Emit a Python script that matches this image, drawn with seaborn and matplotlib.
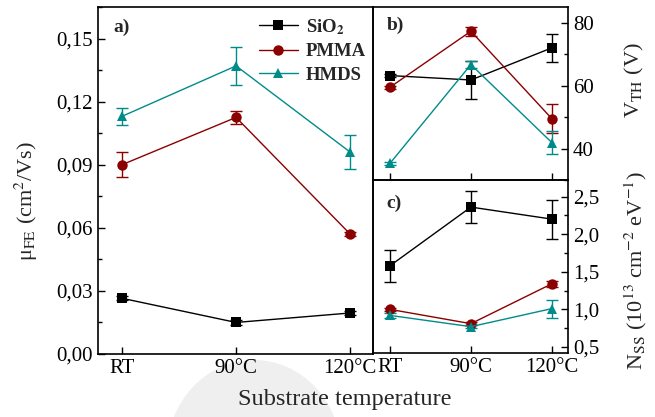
import numpy as np
import pandas as pd
import matplotlib
matplotlib.use('Agg')
import matplotlib.pyplot as plt
from matplotlib.lines import Line2D
from matplotlib.patches import Ellipse
from matplotlib.ticker import FuncFormatter, MultipleLocator, AutoMinorLocator
import seaborn as sns

# ── Data ───────────────────────────────────────────────────────────────────────
temps = ['RT', '90°C', '120°C']
series = ['SiO2', 'PMMA', 'HMDS']

mu_sio2 = [0.0265, 0.015, 0.0195]
mu_pmma = [0.090, 0.1125, 0.057]
mu_hmds = [0.113, 0.137, 0.096]
mu_err_sio2 = [0.001, 0.001, 0.001]
mu_err_pmma = [0.006, 0.003, 0.001]
mu_err_hmds = [0.004, 0.009, 0.008]

vth_sio2 = [63.2, 61.8, 72.0]
vth_pmma = [59.5, 77.3, 49.5]
vth_hmds = [35.3, 66.7, 41.9]
vth_err_sio2 = [0.5, 6.0, 4.5]
vth_err_pmma = [0.5, 1.5, 4.7]
vth_err_hmds = [0.5, 1.0, 3.6]

nss_sio2 = [1.58, 2.36, 2.20]
nss_pmma = [1.00, 0.81, 1.34]
nss_hmds = [0.92, 0.77, 1.01]
nss_err_sio2 = [0.21, 0.21, 0.26]
nss_err_pmma = [0.02, 0.02, 0.04]
nss_err_hmds = [0.03, 0.02, 0.12]

colors = {'SiO2': 'black', 'PMMA': '#8b0000', 'HMDS': '#008b8b'}
markers = {'SiO2': 's', 'PMMA': 'o', 'HMDS': '^'}

# ── Style ──────────────────────────────────────────────────────────────────────
sns.set_theme(style='ticks')
plt.rcParams['font.family'] = ['Liberation Serif', 'DejaVu Serif']
plt.rcParams['mathtext.fontset'] = 'stix'
plt.rcParams['xtick.direction'] = 'in'
plt.rcParams['ytick.direction'] = 'in'
plt.rcParams['axes.linewidth'] = 1.2
plt.rcParams['xtick.color'] = 'black'
plt.rcParams['ytick.color'] = 'black'
plt.rcParams['axes.edgecolor'] = 'black'


def long_frame(vals, errs):
    rows = []
    for name, v, e in zip(series, vals, errs):
        for i, (yy, ee) in enumerate(zip(v, e)):
            rows.append({'x': i, 'y': yy, 'err': ee, 'series': name})
    return pd.DataFrame(rows)


def draw(ax, df):
    sns.lineplot(data=df, x='x', y='y', hue='series', style='series',
                 palette=colors, markers=markers, dashes=False,
                 markersize=7.5, markeredgewidth=0, linewidth=1.0,
                 legend=False, ax=ax, zorder=3)
    for name in series:
        d = df[df['series'] == name]
        ax.errorbar(d['x'], d['y'], yerr=d['err'], fmt='none',
                    ecolor=colors[name], elinewidth=1.0, capsize=4,
                    capthick=1.0, zorder=2)
    ax.set_xlim(-0.21, 2.2)
    ax.set_xticks(range(len(temps)))
    ax.set_xlabel('')
    ax.set_facecolor('none')
    ax.tick_params(which='major', length=5, width=1, labelsize=15)
    ax.tick_params(which='minor', length=3, width=1)


def comma(fmt):
    return FuncFormatter(lambda v, p: (fmt % v).replace('.', ','))


fig = plt.figure(figsize=(6.55, 4.17), dpi=100)

# faint grey watermark shape behind the x label
bg = fig.add_axes([0, 0, 1, 1], zorder=-5)
bg.set_xlim(0, 655)
bg.set_ylim(417, 0)
bg.axis('off')
bg.add_patch(Ellipse((254, 455), 175, 190, color='#efefef', lw=0))

ax_a = fig.add_axes([98 / 655, 1 - 354 / 417, 275 / 655, 347 / 417])
ax_b = fig.add_axes([373 / 655, 1 - 180 / 417, 195 / 655, 173 / 417])
ax_c = fig.add_axes([373 / 655, 1 - 353 / 417, 195 / 655, 173 / 417])

# ── Panel a ────────────────────────────────────────────────────────────────────
draw(ax_a, long_frame([mu_sio2, mu_pmma, mu_hmds],
                      [mu_err_sio2, mu_err_pmma, mu_err_hmds]))
ax_a.set_ylim(0, 0.165)
ax_a.yaxis.set_major_locator(MultipleLocator(0.03))
ax_a.yaxis.set_minor_locator(AutoMinorLocator(2))
ax_a.yaxis.set_major_formatter(comma('%.2f'))
ax_a.set_xticklabels(temps)
ax_a.set_ylabel('μ$_{\\rm FE}$ (cm$^2$/Vs)', fontsize=16)
ax_a.yaxis.set_label_coords(-0.21, 0.44)
ax_a.text(0.055, 0.942, 'a)', transform=ax_a.transAxes, fontsize=14,
          fontweight='bold', va='center')
handles = [Line2D([], [], color=colors[s], marker=markers[s], markersize=7.5,
                  markeredgewidth=0, linewidth=1.0) for s in series]
labels = [r'SiO$_\mathbf{2}$', 'PMMA', 'HMDS']
ax_a.legend(handles, labels, loc='upper right', bbox_to_anchor=(1.035, 1.02),
            frameon=False, handlelength=2.1, handletextpad=0.4,
            labelspacing=0.35, prop={'weight': 'bold', 'size': 13.5})

# ── Panel b ────────────────────────────────────────────────────────────────────
draw(ax_b, long_frame([vth_sio2, vth_pmma, vth_hmds],
                      [vth_err_sio2, vth_err_pmma, vth_err_hmds]))
ax_b.set_ylim(30, 85)
ax_b.yaxis.set_major_locator(MultipleLocator(20))
ax_b.yaxis.set_minor_locator(AutoMinorLocator(2))
ax_b.yaxis.tick_right()
ax_b.yaxis.set_label_position('right')
ax_b.set_xticklabels([])
ax_b.set_ylabel(r'V$_{\rm TH}$ (V)', fontsize=16)
ax_b.yaxis.set_label_coords(1.28, 0.58)
ax_b.text(0.07, 0.896, 'b)', transform=ax_b.transAxes, fontsize=14,
          fontweight='bold', va='center')

# ── Panel c ────────────────────────────────────────────────────────────────────
draw(ax_c, long_frame([nss_sio2, nss_pmma, nss_hmds],
                      [nss_err_sio2, nss_err_pmma, nss_err_hmds]))
ax_c.set_ylim(0.42, 2.72)
ax_c.yaxis.set_major_locator(MultipleLocator(0.5))
ax_c.yaxis.set_minor_locator(AutoMinorLocator(2))
ax_c.yaxis.set_major_formatter(comma('%.1f'))
ax_c.yaxis.tick_right()
ax_c.yaxis.set_label_position('right')
ax_c.set_xticklabels(temps)
ax_c.set_ylabel(r'N$_{\rm SS}$ (10$^{13}$ cm$^{-2}$ eV$^{-1}$)', fontsize=16)
ax_c.yaxis.set_label_coords(1.28, 0.48)
ax_c.text(0.07, 0.867, 'c)', transform=ax_c.transAxes, fontsize=14,
          fontweight='bold', va='center')

fig.text(345 / 655, 1 - 400 / 417, 'Substrate temperature', fontsize=17.5,
         ha='center', va='center')

fig.savefig('out.png', dpi=100)
